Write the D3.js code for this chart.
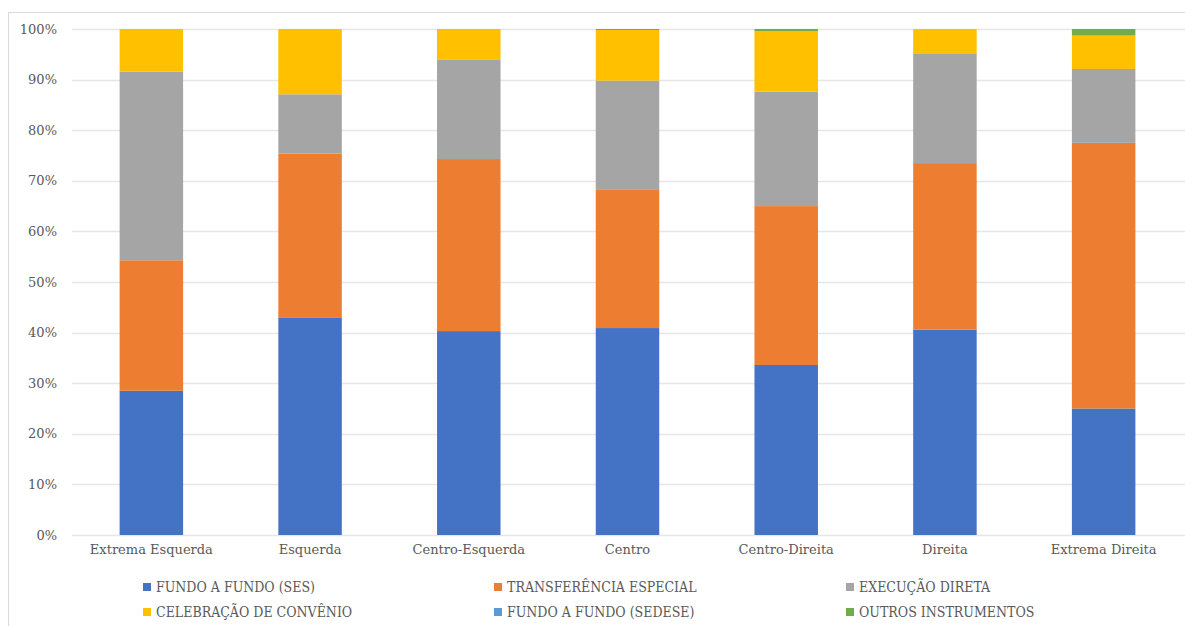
<!DOCTYPE html>
<html>
<head>
<meta charset="utf-8">
<script src="https://cdn.jsdelivr.net/npm/d3@7"></script>
<style>
  html, body { margin: 0; padding: 0; background: #fff; }
  svg { display: block; }
</style>
</head>
<body>
<div id="chart"></div>
<script>
var categories = ["Extrema Esquerda", "Esquerda", "Centro-Esquerda", "Centro", "Centro-Direita", "Direita", "Extrema Direita"];
var seriesNames = ["FUNDO A FUNDO (SES)", "TRANSFERÊNCIA ESPECIAL", "EXECUÇÃO DIRETA", "CELEBRAÇÃO DE CONVÊNIO", "FUNDO A FUNDO (SEDESE)", "OUTROS INSTRUMENTOS"];
var fundoSes = [28.5, 42.9, 40.3, 40.9, 33.6, 40.6, 25.0];
var transferencia = [25.8, 32.5, 34.0, 27.3, 31.4, 32.9, 52.5];
var execucao = [37.3, 11.7, 19.7, 21.6, 22.6, 21.7, 14.6];
var convenio = [8.4, 12.9, 6.0, 10.0, 11.95, 4.8, 6.6];
var fundoSedese = [0, 0, 0, 0, 0, 0, 0];
var outros = [0, 0, 0, 0.2, 0.45, 0, 1.3];
var yTicks = [0, 10, 20, 30, 40, 50, 60, 70, 80, 90, 100];

function draw_chart() {
  var width = 1185, height = 626;
  var colors = ["#4472C4", "#ED7D31", "#A5A5A5", "#FFC000", "#5B9BD5", "#70AD47"];
  var values = [fundoSes, transferencia, execucao, convenio, fundoSedese, outros];

  var rows = categories.map((c, i) => {
    var row = {cat: c};
    seriesNames.forEach((s, j) => row[s] = values[j][i]);
    return row;
  });
  var stacked = d3.stack().keys(seriesNames)(rows);

  var x = d3.scaleBand()
    .domain(categories)
    .range([72, 1183])
    .paddingInner(0.6)
    .paddingOuter(0.3);
  var y = d3.scaleLinear()
    .domain([0, 100])
    .range([535, 29]);
  var color = d3.scaleOrdinal(seriesNames, colors);

  var svg = d3.select("#chart")
    .append("svg")
    .attr("width", width)
    .attr("height", height)
    .style("font-family", "'DejaVu Serif', serif");

  svg.append("rect")
    .attr("x", 8.5)
    .attr("y", 12.5)
    .attr("width", 1200)
    .attr("height", 640)
    .attr("fill", "none")
    .attr("stroke", "#d9d9d9");

  svg.append("g")
    .selectAll("line")
    .data(yTicks)
    .join("line")
    .attr("x1", 72)
    .attr("x2", width)
    .attr("y1", d => Math.round(y(d)) + 0.5)
    .attr("y2", d => Math.round(y(d)) + 0.5)
    .attr("stroke", "#e6e6e6")
    .attr("stroke-width", 1.5);

  var yAxis = svg.append("g")
    .attr("transform", "translate(72,0)")
    .call(d3.axisLeft(y).tickValues(yTicks).tickFormat(d => d + "%").tickSize(0).tickPadding(15));
  yAxis.select(".domain").remove();
  yAxis.selectAll("text")
    .attr("fill", "#595959")
    .style("font-size", "13px")
    .style("font-family", "'DejaVu Serif', serif");

  svg.append("g")
    .selectAll("g")
    .data(stacked)
    .join("g")
    .attr("fill", d => color(d.key))
    .selectAll("rect")
    .data(d => d)
    .join("rect")
    .attr("x", d => x(d.data.cat))
    .attr("width", x.bandwidth())
    .attr("y", d => y(d[1]))
    .attr("height", d => y(d[0]) - y(d[1]));

  var xAxis = svg.append("g")
    .attr("transform", "translate(0,535)")
    .call(d3.axisBottom(x).tickSize(0).tickPadding(10));
  xAxis.select(".domain").remove();
  xAxis.selectAll("text")
    .attr("fill", "#595959")
    .style("font-size", "13px")
    .style("font-family", "'DejaVu Serif', serif");

  var legendX = [143, 494, 846];
  var legend = svg.append("g")
    .selectAll("g")
    .data(seriesNames)
    .join("g")
    .attr("transform", (d, i) => `translate(${legendX[i % 3]},${i < 3 ? 587 : 612})`);
  legend.append("rect")
    .attr("x", 0)
    .attr("y", -4)
    .attr("width", 8)
    .attr("height", 8)
    .attr("fill", d => color(d));
  legend.append("text")
    .attr("x", 13)
    .attr("y", "0.36em")
    .attr("fill", "#595959")
    .style("font-size", "14px")
    .style("font-family", "'DejaVu Serif Condensed', 'DejaVu Serif', serif")
    .style("font-stretch", "condensed")
    .text(d => d);
}
draw_chart();
</script>
</body>
</html>
